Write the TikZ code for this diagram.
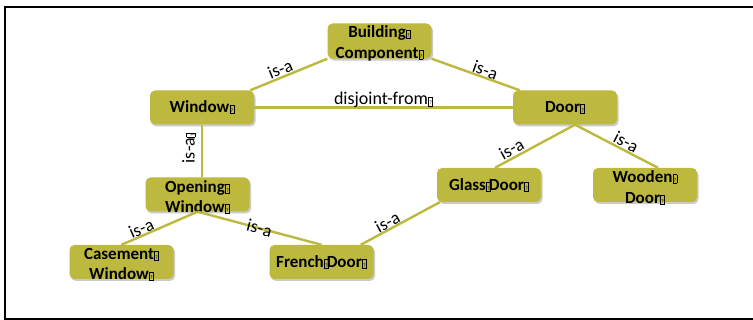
\documentclass[tikz,border=0pt]{standalone}
\usepackage{fontspec}
\setmainfont{Carlito}
\usetikzlibrary{shadows}
\definecolor{conceptfill}{RGB}{188,185,62}
% small framed "?" mark printed after each word
\newcommand\nog{\kern0.4pt{\setlength\fboxsep{0.5pt}\setlength\fboxrule{0.5pt}\fbox{\rule{0pt}{7.2pt}\fontsize{5.5}{6}\selectfont\mdseries ?}}}
% one line of a two-line concept, set a little lower in its box
\newcommand\lowline[1]{\raisebox{-2.5pt}[\height][\depth]{#1}}
\begin{document}
\begin{tikzpicture}[x=1pt,y=-1pt,
  concept/.style={fill=conceptfill, rounded corners=5pt, minimum width=104pt,
    minimum height=34pt, inner sep=0pt, align=center,
    font=\fontsize{17}{20.5}\selectfont\bfseries,
    drop shadow={shadow xshift=1.5pt, shadow yshift=-2pt, opacity=.35, fill=black!60}},
  link/.style={draw=conceptfill, line width=2.4pt},
  rel/.style={font=\fontsize{18}{18}\selectfont, inner sep=0pt}]
\useasboundingbox (0,0) rectangle (753,320);
\draw[line width=1.8pt] (5,7) rectangle (770,319);

% concepts
\node[concept] (bc)     at (379.5,41)   {\lowline{Building\nog}\\\lowline{Component\nog}};
\node[concept] (win)    at (202,107.5)  {Window\nog};
\node[concept] (door)   at (565,107.5)  {Door\nog};
\node[concept] (glass)  at (489,185)    {Glass\nog\kern-2pt Door\nog};
\node[concept] (wood)   at (645,185)    {\lowline{Wooden\nog}\\\lowline{Door\nog}};
\node[concept] (open)   at (197.5,194.5){\lowline{Opening\nog}\\\lowline{Window\nog}};
\node[concept] (cas)    at (121.5,262)  {\lowline{Casement\nog}\\\lowline{Window\nog}};
\node[concept] (french) at (321.5,262)  {French\nog\kern-2pt Door\nog};

% relations
\coordinate (dapex) at ([xshift=10pt]door.south);
\draw[link] ([xshift=-4pt]win.north east) -- node[rel, sloped, above=1pt, pos=.43] (l1) {is-a} (bc.south west);
\draw[link] (bc.south east) -- node[rel, sloped, above=0pt, pos=.58] (l2) {is-a} ([xshift=7pt]door.north west);
\draw[link] (win.east) -- node[rel, pos=.5, anchor=base, yshift=2.5pt] (l3) {disjoint-from\nog} (door.west);
\draw[link] (win.south) -- (win.south |- open.north);
\node[rel, rotate=90] (l4) at (189,148) {is-a\nog};
\draw[link] (dapex) -- node[rel, sloped, above=1.5pt, pos=.74] (l5) {is-a} ([xshift=6pt]glass.north);
\draw[link] (dapex) -- node[rel, sloped, above=1pt, pos=.57] (l6) {is-a} ([xshift=13pt]wood.north);
\draw[link] (open.south) -- node[rel, sloped, above=0pt, pos=.70] (l7) {is-a} (cas.north);
\draw[link] (open.south) -- node[rel, sloped, pos=.5] (l8) {is-a} (french.north);
\draw[link] ([xshift=3pt]glass.south west) -- node[rel, sloped, above=-0.5pt, pos=.62] (l9) {is-a} ([xshift=-13pt]french.north east);
\end{tikzpicture}
\end{document}
